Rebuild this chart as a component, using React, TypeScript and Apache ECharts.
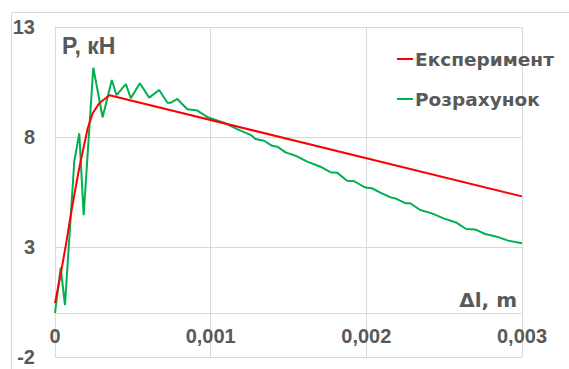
import React, { useEffect, useRef } from "react";
import * as echarts from "echarts";

const seriesNames = ["Експеримент", "Розрахунок"];
const xTicks = [0, 0.001, 0.002, 0.003];
const yTicks = [-2, 3, 8, 13];
const xAxisCrossAt = 0;

const expX = [0, 0.00004, 0.00007, 0.0001, 0.00013, 0.000156, 0.00021, 0.000242, 0.000284, 0.00035, 0.003];
const expY = [0.45, 1.9, 3.1, 4.4, 5.6, 6.6, 8.4, 9.08, 9.53, 9.9, 5.3];

const calcX = [
  0, 0.0000365, 0.000064, 0.000124, 0.000156, 0.000184, 0.000246, 0.000306, 0.000365, 0.000395,
  0.000455, 0.000487, 0.000545, 0.000605, 0.000669, 0.000722, 0.000745, 0.000786, 0.00085, 0.000915,
  0.00098, 0.001085, 0.00117, 0.001256, 0.001288, 0.001342, 0.001395, 0.001428, 0.001481, 0.001545,
  0.00162, 0.001705, 0.001769, 0.001812, 0.001876, 0.001919, 0.001994, 0.002036, 0.00209, 0.002154,
  0.002186, 0.00225, 0.002282, 0.002346, 0.002421, 0.002496, 0.002581, 0.002641, 0.002699, 0.002763,
  0.002838, 0.002912, 0.003,
];
const calcY = [
  0, 2.06, 0.36, 6.9, 8.17, 4.45, 11.15, 8.9, 10.59, 9.9,
  10.4, 9.76, 10.44, 9.79, 10.14, 9.56, 9.56, 9.73, 9.26, 9.2,
  8.9, 8.65, 8.36, 8.1, 7.91, 7.83, 7.6, 7.56, 7.3, 7.15,
  6.88, 6.65, 6.4, 6.38, 6.01, 6.0, 5.7, 5.67, 5.47, 5.26,
  5.21, 4.99, 4.99, 4.68, 4.53, 4.3, 4.1, 3.82, 3.8, 3.59,
  3.47, 3.29, 3.17,
];

const xTitle = "Δl, m";
const yTitle = "P, кН";

const FONT = "'Liberation Sans', Arial, sans-serif";
const WIDE = "'DejaVu Sans', 'Liberation Sans', sans-serif";
const TEXT = "#595959";
const GRIDC = "#d9d9d9";
const RED = "#ff0000";
const GREEN = "#00b050";

export default function App() {
  const ref = useRef<HTMLDivElement>(null);
  useEffect(() => {
    if (!ref.current) return;
    const chart = echarts.init(ref.current, undefined, { renderer: "svg" });
    const expData = expX.map((x, i) => [x, expY[i]]);
    const calcData = calcX.map((x, i) => [x, calcY[i]]);
    chart.setOption({
      animation: false,
      backgroundColor: "#ffffff",
      textStyle: { fontFamily: FONT },
      grid: { left: 55, right: 47, top: 27, bottom: 12, containLabel: false, outerBoundsMode: "none" },
      legend: {
        orient: "vertical",
        left: 397,
        top: 48,
        itemWidth: 16,
        itemHeight: 2,
        itemGap: 18,
        padding: 0,
        data: [
          { name: seriesNames[0], icon: "rect" },
          { name: seriesNames[1], icon: "rect" },
        ],
        textStyle: {
          fontFamily: WIDE,
          fontSize: 18.5,
          fontWeight: "bold",
          color: TEXT,
          lineHeight: 22,
          padding: [0, 0, 0, -3],
        },
      },
      xAxis: {
        type: "value",
        position: "bottom",
        offset: 0,
        min: xTicks[0],
        max: xTicks[xTicks.length - 1],
        interval: xTicks[1] - xTicks[0],
        axisLine: { show: true, onZero: true, lineStyle: { color: GRIDC, width: 1 } },
        axisTick: { show: false },
        splitLine: { show: true, showMinLine: true, showMaxLine: true, lineStyle: { color: GRIDC, width: 1 } },
        axisLabel: {
          margin: 13,
          fontFamily: FONT,
          fontSize: 20,
          fontWeight: "bold",
          color: TEXT,
          formatter: (v: number) => (v === 0 ? "0" : v.toFixed(3).replace(".", ",")),
        },
      },
      yAxis: {
        type: "value",
        min: yTicks[0],
        max: yTicks[yTicks.length - 1],
        interval: yTicks[1] - yTicks[0],
        axisLine: { show: true, onZero: false, lineStyle: { color: GRIDC, width: 1 } },
        axisTick: { show: false },
        splitLine: { show: true, showMinLine: true, showMaxLine: true, lineStyle: { color: GRIDC, width: 1 } },
        axisLabel: {
          margin: 20,
          fontFamily: FONT,
          fontSize: 20,
          fontWeight: "bold",
          color: TEXT,
        },
      },
      graphic: [
        {
          type: "line",
          shape: { x1: 11.5, y1: 12.5, x2: 569, y2: 12.5 },
          style: { stroke: GRIDC, lineWidth: 1 },
          silent: true,
        },
        {
          type: "line",
          shape: { x1: 11.5, y1: 12.5, x2: 11.5, y2: 369 },
          style: { stroke: GRIDC, lineWidth: 1 },
          silent: true,
        },
        {
          type: "text",
          x: 62,
          y: 45.5,
          style: {
            text: yTitle,
            fill: TEXT,
            font: `bold 23px ${FONT}`,
            textAlign: "left",
            textVerticalAlign: "middle",
          },
        },
        {
          type: "text",
          x: 517,
          y: 300,
          style: {
            text: xTitle,
            fill: TEXT,
            font: `bold 20px ${WIDE}`,
            textAlign: "right",
            textVerticalAlign: "middle",
          },
        },
      ],
      series: [
        {
          name: seriesNames[0],
          type: "line",
          data: expData,
          showSymbol: false,
          symbol: "none",
          lineStyle: { color: RED, width: 2 },
          itemStyle: { color: RED },
          z: 3,
        },
        {
          name: seriesNames[1],
          type: "line",
          data: calcData,
          showSymbol: false,
          symbol: "none",
          lineStyle: { color: GREEN, width: 2 },
          itemStyle: { color: GREEN },
          z: 2,
        },
      ],
    });
    // Move the x axis (line and labels) to where the y scale is zero.
    const pZero = chart.convertToPixel({ yAxisIndex: 0 }, xAxisCrossAt) as number;
    const pMin = chart.convertToPixel({ yAxisIndex: 0 }, yTicks[0]) as number;
    if (isFinite(pZero) && isFinite(pMin)) {
      chart.setOption({ xAxis: { offset: pZero - pMin } });
    }
    return () => chart.dispose();
  }, []);
  return (
    <div
      ref={ref}
      style={{ position: "fixed", left: 0, top: 0, width: 569, height: 369, background: "#ffffff" }}
    />
  );
}
